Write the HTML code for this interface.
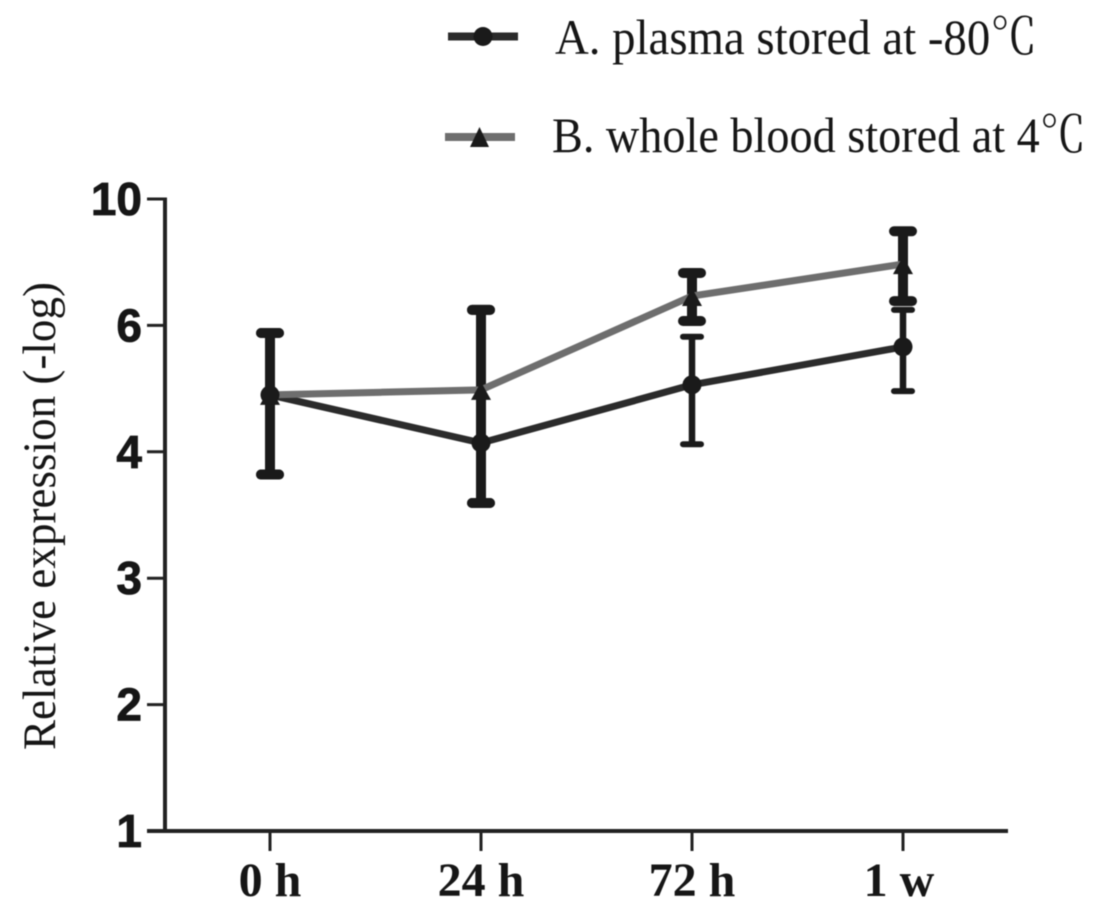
<!DOCTYPE html>
<html lang="en">
<head>
<meta charset="utf-8">
<title>Relative expression chart</title>
<style>
html,body{margin:0;padding:0;background:#fff;}
svg{display:block;filter:blur(0.5px);}
text{fill:#161616;}
.ytick{font:bold 46px "Liberation Sans",sans-serif;text-anchor:end;stroke:#161616;stroke-width:0.8px;}
.xtick{font:bold 48px "Liberation Serif",serif;text-anchor:middle;}
.title{font:47px "Liberation Serif",serif;text-anchor:middle;}
.legend{font:50px "Liberation Serif","Noto Serif CJK SC",serif;}
</style>
</head>
<body>
<svg id="chart" xmlns="http://www.w3.org/2000/svg" width="1114" height="920" viewBox="0 0 1114 920">
  <rect width="1114" height="920" fill="#fff"/>
  <text class="title" transform="translate(55,516) rotate(-90)" textLength="468" lengthAdjust="spacingAndGlyphs">Relative expression (-log)</text>
  <g id="legend">
    <g>
      <line x1="448" y1="36.5" x2="518" y2="36.5" stroke="#2b2b2b" stroke-width="8"/>
      <circle cx="483" cy="36.5" r="9.5" fill="#1a1a1a"/>
      <text class="legend" x="555" y="54" textLength="482" lengthAdjust="spacingAndGlyphs">A. plasma stored at -80℃</text>
    </g>
    <g>
      <line x1="445" y1="137" x2="515" y2="137" stroke="#6e6e6e" stroke-width="8"/>
      <polygon points="479.5,127 470,147 489,147" fill="#1a1a1a"/>
      <text class="legend" x="552" y="152" textLength="534" lengthAdjust="spacingAndGlyphs">B. whole blood stored at 4℃</text>
    </g>
  </g>
  <g id="plot"></g>
</svg>
<script>
const categories = ['0 h', '24 h', '72 h', '1 w'];
const yTicks = [1, 2, 3, 4, 6, 10];
const aMean = [4.90, 4.14, 5.06, 5.66];
const aUpper = [5.88, 6.49, 5.82, 6.49];
const aLower = [3.82, 3.595, 4.12, 4.96];
const bMean = [4.90, 4.98, 6.93, 7.94];
const bUpper = [5.88, 6.49, 7.66, 8.98];
const bLower = [3.82, 3.595, 6.14, 6.77];

const NS = 'http://www.w3.org/2000/svg';
const plot = document.getElementById('plot');
const axisX = 165, axisBottom = 831, step = 126.4, xStart = 270, xStep = 211;

function x(i) { return xStart + xStep * i; }
function y(v) {
  let k = 0;
  while (k < yTicks.length - 2 && v > yTicks[k + 1]) k++;
  const frac = (v - yTicks[k]) / (yTicks[k + 1] - yTicks[k]);
  return axisBottom - step * (k + frac);
}
function make(tag, attrs, parent) {
  const el = document.createElementNS(NS, tag);
  for (const key in attrs) el.setAttribute(key, attrs[key]);
  (parent || plot).appendChild(el);
  return el;
}

function drawAxes() {
  const g = make('g', {});
  
  
  const yLine = make('line', {x1: axisX, x2: axisX, y1: y(10) - 1.5, y2: axisBottom + 2, stroke: '#222', 'stroke-width': 4}, g);
  
  
  const xLine = make('line', {x1: 147, x2: 1008, y1: axisBottom, y2: axisBottom, stroke: '#222', 'stroke-width': 4}, g);
  
  
  yTicks.forEach(function (t) {
    const tick = make('line', {x1: 147, x2: axisX, y1: y(t), y2: y(t), stroke: '#222', 'stroke-width': 3}, g);
    
    
    const label = make('text', {class: 'ytick', x: 142, y: y(t) + 16}, g);
    
    
    label.textContent = t;
  });
  categories.forEach(function (c, i) {
    const tick = make('line', {x1: x(i), x2: x(i), y1: axisBottom, y2: 851, stroke: '#222', 'stroke-width': 3}, g);
    
    
    const label = make('text', {class: 'xtick', x: x(i) + (i === 3 ? -4 : 0), y: 896}, g);
    
    
    label.textContent = c;
  });
}

function drawErrors(upper, lower, name, stemFor, capFor, halfFor) {
  upper.forEach(function (u, i) {
    const g = make('g', {fill: 'none', stroke: '#1a1a1a', 'stroke-linecap': 'round'});
    
    
    const cap = capFor(i);
    const half = halfFor(i) - cap / 2;
    make('line', {x1: x(i), x2: x(i), y1: y(u), y2: y(lower[i]), 'stroke-width': stemFor(i), 'stroke-linecap': 'butt'}, g);
    make('line', {x1: x(i) - half, x2: x(i) + half, y1: y(u), y2: y(u), 'stroke-width': cap}, g);
    make('line', {x1: x(i) - half, x2: x(i) + half, y1: y(lower[i]), y2: y(lower[i]), 'stroke-width': cap}, g);
  });
}

function drawLine(values, color, name) {
  const pts = values.map(function (v, i) { return x(i) + ',' + y(v); }).join(' ');
  const line = make('polyline', {points: pts, fill: 'none', stroke: color, 'stroke-width': 7});
  
  
}

function drawCircles(values, name) {
  values.forEach(function (v, i) {
    const c = make('circle', {cx: x(i), cy: y(v), r: 9.5, fill: '#1a1a1a'});
    
    
  });
}

function drawTriangles(values, name) {
  values.forEach(function (v, i) {
    const px = x(i), py = y(v);
    const t = make('polygon', {points: px + ',' + (py - 8) + ' ' + (px - 10) + ',' + (py + 10) + ' ' + (px + 10) + ',' + (py + 10), fill: '#1a1a1a'});
    
    
  });
}

drawAxes();
drawErrors(bUpper, bLower, 'series-b', function () { return 10; }, function () { return 10; }, function () { return 14; });
drawErrors(aUpper, aLower, 'series-a', function (i) { return i < 2 ? 10 : 6.5; }, function (i) { return i < 2 ? 10 : 6; }, function (i) { return i < 2 ? 14 : 12; });
drawLine(aMean, '#2b2b2b', 'series-a');
drawLine(bMean, '#6e6e6e', 'series-b');
drawTriangles(bMean, 'series-b');
drawCircles(aMean, 'series-a');
</script>
</body>
</html>
